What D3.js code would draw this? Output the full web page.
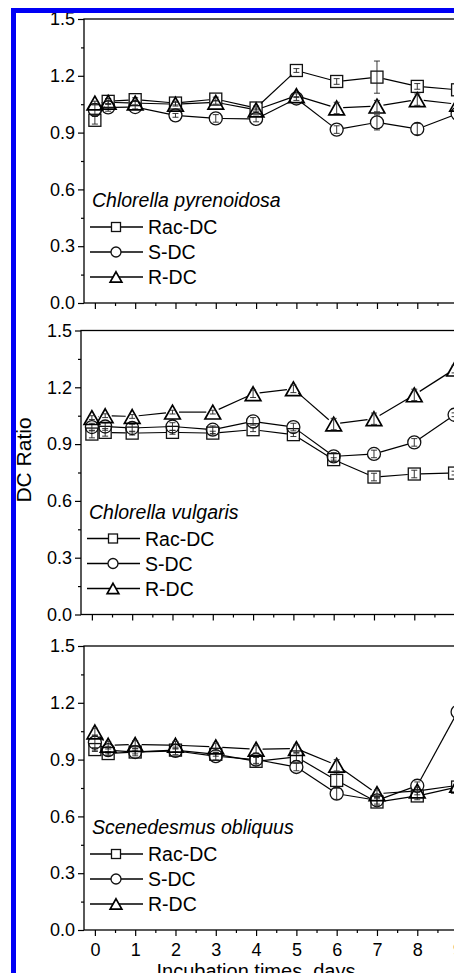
<!DOCTYPE html>
<meta charset="utf-8">
<style>
body { margin: 0; background: #fff; }
svg { display: block; font-family: "Liberation Sans", Arial, sans-serif; }
.axis text { font-size: 18px; fill: #000; }
.axis line { stroke: #000; stroke-width: 1.2px; }
.axis path { display: none; }
</style>
<body>
<svg width="454" height="973" id="chart"></svg>
<script src="https://d3js.org/d3.v7.min.js"></script>
<script>

// incubation times (days); second sampling point is ~8 h
var days = [0, 0.33, 1, 2, 3, 4, 5, 6, 7, 8, 9];
var seriesNames = ["Rac-DC", "S-DC", "R-DC"];
var species = ["Chlorella pyrenoidosa", "Chlorella vulgaris", "Scenedesmus obliquus"];

// Chlorella pyrenoidosa
var pyrRac  = [0.965, 1.065, 1.074, 1.056, 1.077, 1.030, 1.228, 1.170, 1.193, 1.144, 1.126];
var pyrS    = [1.020, 1.033, 1.035, 0.991, 0.975, 0.972, 1.080, 0.916, 0.954, 0.919, 1.000];
var pyrR    = [1.056, 1.060, 1.056, 1.050, 1.060, 1.020, 1.095, 1.030, 1.040, 1.074, 1.050];
var pyrRacE = [0.020, 0.015, 0.010, 0.010, 0.010, 0.010, 0.010, 0.015, 0.085, 0.015, 0.010];
var pyrSE   = [0.030, 0.020, 0.010, 0.010, 0.020, 0.015, 0.010, 0.020, 0.040, 0.030, 0.010];
var pyrRE   = [0.010, 0.010, 0.010, 0.010, 0.010, 0.010, 0.010, 0.030, 0.030, 0.030, 0.010];

// Chlorella vulgaris
var vulRac  = [0.953, 0.962, 0.958, 0.962, 0.958, 0.976, 0.950, 0.818, 0.726, 0.742, 0.747];
var vulS    = [0.990, 0.993, 0.985, 0.993, 0.976, 1.020, 0.990, 0.835, 0.848, 0.909, 1.055];
var vulR    = [1.040, 1.050, 1.046, 1.069, 1.069, 1.166, 1.192, 1.006, 1.034, 1.160, 1.296];
var vulRacE = [0.020, 0.020, 0.010, 0.010, 0.010, 0.010, 0.010, 0.010, 0.020, 0.020, 0.010];
var vulSE   = [0.020, 0.020, 0.020, 0.020, 0.020, 0.020, 0.020, 0.020, 0.020, 0.020, 0.010];
var vulRE   = [0.010, 0.010, 0.010, 0.010, 0.010, 0.020, 0.020, 0.030, 0.030, 0.030, 0.020];

// Scenedesmus obliquus
var sceRac  = [0.953, 0.932, 0.940, 0.950, 0.928, 0.891, 0.914, 0.790, 0.676, 0.708, 0.755];
var sceS    = [0.990, 0.950, 0.940, 0.946, 0.918, 0.900, 0.861, 0.720, 0.685, 0.762, 1.152];
var sceR    = [1.046, 0.976, 0.980, 0.976, 0.967, 0.955, 0.958, 0.870, 0.720, 0.734, 0.764];
var sceRacE = [0.010, 0.010, 0.010, 0.010, 0.010, 0.020, 0.020, 0.040, 0.020, 0.020, 0.010];
var sceSE   = [0.040, 0.020, 0.020, 0.020, 0.020, 0.020, 0.020, 0.030, 0.020, 0.020, 0.010];
var sceRE   = [0.020, 0.020, 0.020, 0.020, 0.020, 0.020, 0.020, 0.030, 0.020, 0.020, 0.010];

var yMajor = [0, 0.3, 0.6, 0.9, 1.2, 1.5];
var yMinor = [0.15, 0.45, 0.75, 1.05, 1.35];
var xMajor = [0, 1, 2, 3, 4, 5, 6, 7, 8, 9];
var xMinor = [0.5, 1.5, 2.5, 3.5, 4.5, 5.5, 6.5, 7.5, 8.5, 9.5];

var panels = [
    {name: species[0], values: [pyrRac, pyrS, pyrR], errors: [pyrRacE, pyrSE, pyrRE]},
    {name: species[1], values: [vulRac, vulS, vulR], errors: [vulRacE, vulSE, vulRE]},
    {name: species[2], values: [sceRac, sceS, sceR], errors: [sceRacE, sceSE, sceRE]}
];

var svg = d3.select("svg");
var panelTop = [19, 330.5, 646];
var panelLeft = [84, 81, 84];
var panelH = 284;
var dayPx = 40.3;

// marker shapes: square, circle, triangle
function drawMarker(g, kind, cx, cy, s, fill) {
    if (kind == 0) {
        g.append("rect")
            .attr("x", cx - s / 2).attr("y", cy - s / 2)
            .attr("width", s).attr("height", s)
            .attr("fill", fill).attr("stroke", "#111").attr("stroke-width", 1.3);
    } else if (kind == 1) {
        g.append("circle")
            .attr("cx", cx).attr("cy", cy).attr("r", s / 2 + 0.5)
            .attr("fill", fill).attr("stroke", "#111").attr("stroke-width", 1.3);
    } else {
        var w = s * 1.3, h = s * 1.15;
        g.append("path")
            .attr("d", "M" + cx + "," + (cy - h / 2) + "L" + (cx + w / 2) + "," + (cy + h / 2) + "L" + (cx - w / 2) + "," + (cy + h / 2) + "Z")
            .attr("fill", fill).attr("stroke", "#000").attr("stroke-width", 1.7);
    }
}

panels.forEach(function(p, pi) {
    var top = panelTop[pi], left = panelLeft[pi], bottom = top + panelH;
    var x = d3.scaleLinear().domain([-0.27, 9.6]).range([left, left + 9.87 * dayPx]);
    var y = d3.scaleLinear().domain([0, 1.5]).range([bottom, top]);
    var g = svg.append("g");

    g.append("g").attr("class", "axis")
        .attr("transform", "translate(" + left + ",0)")
        .call(d3.axisLeft(y).tickValues(yMajor).tickSize(6).tickPadding(3).tickFormat(d3.format(".1f")));
    g.append("g").attr("class", "axis")
        .attr("transform", "translate(" + left + ",0)")
        .call(d3.axisLeft(y).tickValues(yMinor).tickSize(3).tickFormat(""));
    g.append("g").attr("class", "axis")
        .attr("transform", "translate(0," + bottom + ")")
        .call(d3.axisBottom(x).tickValues(xMajor).tickSize(6).tickPadding(7)
            .tickFormat(pi == 2 ? d3.format("d") : ""));
    g.append("g").attr("class", "axis")
        .attr("transform", "translate(0," + bottom + ")")
        .call(d3.axisBottom(x).tickValues(xMinor).tickSize(3).tickFormat(""));

    g.append("rect")
        .attr("x", left).attr("y", top)
        .attr("width", x.range()[1] - left).attr("height", panelH)
        .attr("fill", "none").attr("stroke", "#000").attr("stroke-width", 1.3);

    var sizes = [12, 12, 12];
    p.values.forEach(function(vals, si) {
        var pts = vals.map(function(v, i) { return [x(days[i]), y(v)]; });
        // connecting lines stop at the symbol edge
        var gap = 6.5;
        for (var i = 1; i < pts.length; i++) {
            var a = pts[i - 1], b = pts[i];
            var dx = b[0] - a[0], dy = b[1] - a[1], len = Math.sqrt(dx * dx + dy * dy);
            if (len <= 2 * gap) continue;
            g.append("line")
                .attr("x1", a[0] + dx / len * gap).attr("y1", a[1] + dy / len * gap)
                .attr("x2", b[0] - dx / len * gap).attr("y2", b[1] - dy / len * gap)
                .attr("stroke", "#000").attr("stroke-width", 1.2);
        }
        pts.forEach(function(pt) { drawMarker(g, si, pt[0], pt[1], sizes[si], "none"); });
        // error bars
        p.errors[si].forEach(function(e, i) {
            var cx = x(days[i]), y1 = y(vals[i] - e), y2 = y(vals[i] + e);
            g.append("line").attr("x1", cx).attr("x2", cx).attr("y1", y1).attr("y2", y2)
                .attr("stroke", "#222").attr("stroke-width", 0.9);
            [y1, y2].forEach(function(yy) {
                g.append("line").attr("x1", cx - 3).attr("x2", cx + 3).attr("y1", yy).attr("y2", yy)
                    .attr("stroke", "#222").attr("stroke-width", 0.9);
            });
        });
    });

    // legend
    g.append("text")
        .attr("x", left + 8).attr("y", bottom - 96)
        .attr("font-size", "19.5px").attr("font-style", "italic")
        .text(p.name);
    [-76, -51, -26].forEach(function(off, si) {
        var ly = bottom + off;
        g.append("line").attr("x1", left + 6).attr("x2", left + 59).attr("y1", ly).attr("y2", ly)
            .attr("stroke", "#000").attr("stroke-width", 1.3);
        drawMarker(g, si, left + 32, ly, 9, "#fff");
        g.append("text")
            .attr("x", left + 64).attr("y", ly).attr("dy", "0.36em")
            .attr("font-size", "19.5px")
            .text(seriesNames[si]);
    });
});

svg.append("text")
    .attr("transform", "translate(31,460) rotate(-90)")
    .attr("text-anchor", "middle")
    .attr("font-size", "21px")
    .text("DC Ratio");

svg.append("text")
    .attr("x", 256).attr("y", 978)
    .attr("text-anchor", "middle")
    .attr("font-size", "20px")
    .text("Incubation times, days");

// blue frame along top and left
svg.append("path")
    .attr("d", "M13.5,973V10.5H454")
    .attr("fill", "none")
    .attr("stroke", "#0000f5")
    .attr("stroke-width", 5);

</script>
</body>
